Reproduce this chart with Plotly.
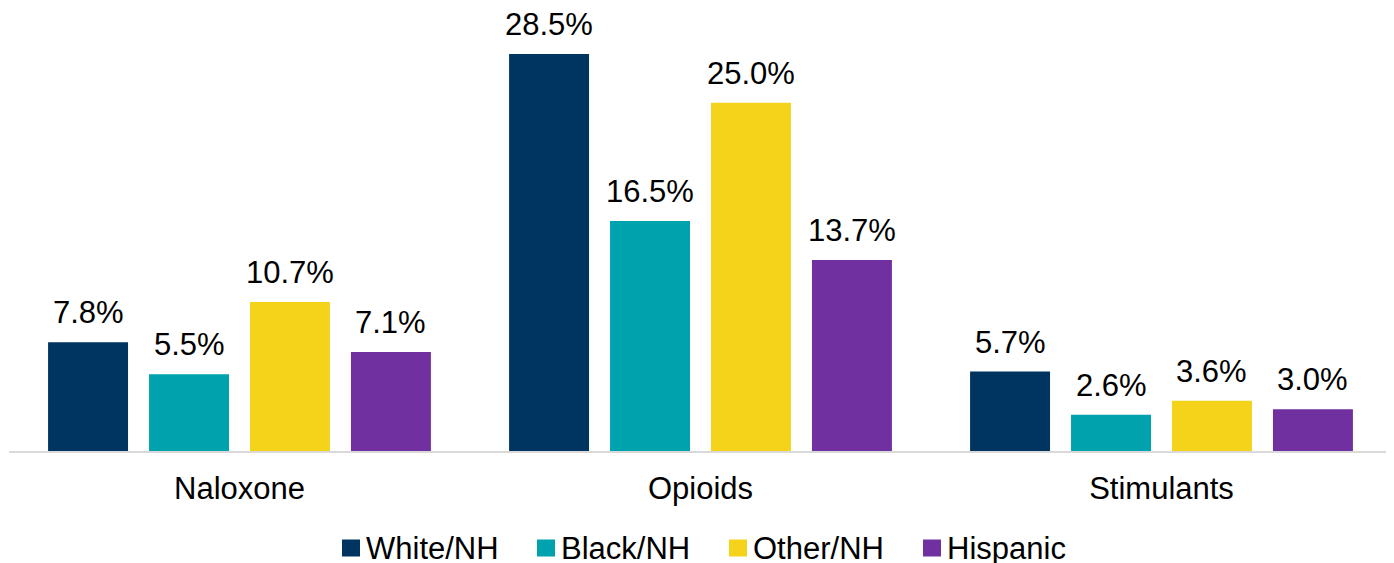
import plotly.graph_objects as go

categories = ["Naloxone", "Opioids", "Stimulants"]
series_names = ["White/NH", "Black/NH", "Other/NH", "Hispanic"]
white_nh = [7.8, 28.5, 5.7]
black_nh = [5.5, 16.5, 2.6]
other_nh = [10.7, 25.0, 3.6]
hispanic = [7.1, 13.7, 3.0]
series_values = [white_nh, black_nh, other_nh, hispanic]
colors = ["#003461", "#00A2AE", "#F6D31B", "#7030A0"]

FONT = "Liberation Sans, Arial, sans-serif"
FS = 31
BARGAP = 0.124
BARGROUPGAP = 0.208

# page body has an 8px default margin; the figure is sized to fit the window
PAGE_OFF = 8
W, H = 1394 - PAGE_OFF, 563 - PAGE_OFF
ML, MR, MT, MB = 1, 2, 25, 112
PW, PH = W - ML - MR, H - MT - MB

fig = go.Figure()
for name, vals, col in zip(series_names, series_values, colors):
    fig.add_trace(go.Bar(name=name, x=categories, y=vals, showlegend=False,
                         marker=dict(color=col, line=dict(width=0))))

n = len(series_names)
slot = (1 - BARGAP) / n
annotations = []
for j, vals in enumerate(series_values):
    for i, v in enumerate(vals):
        annotations.append(dict(
            x=i + (j - (n - 1) / 2) * slot, y=v, xref="x", yref="y",
            text=f"{v:.1f}%", showarrow=False, yanchor="bottom", yshift=10,
            font=dict(family=FONT, size=FS, color="#000000"),
        ))

# custom legend (layout positions in page pixels converted to paper coords)
legend_left_px = [342, 537, 729, 923]
legend_y_px = 548
sq_w, sq_h = 18, 17
shapes = []
for name, col, lx in zip(series_names, colors, legend_left_px):
    fx = lx - PAGE_OFF
    fy = legend_y_px - PAGE_OFF
    x0 = (fx - ML) / PW
    x1 = (fx + sq_w - ML) / PW
    y0 = (MT + PH - (fy + sq_h / 2)) / PH
    y1 = (MT + PH - (fy - sq_h / 2)) / PH
    shapes.append(dict(type="rect", xref="paper", yref="paper", x0=x0, x1=x1, y0=y0, y1=y1,
                       fillcolor=col, line=dict(width=0)))
    annotations.append(dict(
        x=(fx + sq_w + 4 - ML) / PW, y=(MT + PH - fy) / PH, xref="paper", yref="paper",
        text=name, showarrow=False, xanchor="left", yanchor="middle",
        font=dict(family=FONT, size=FS, color="#000000"),
    ))

fig.update_layout(
    width=W, height=H,
    margin=dict(l=ML, r=MR, t=MT, b=MB, autoexpand=False),
    paper_bgcolor="white", plot_bgcolor="white",
    barmode="group", bargap=BARGAP, bargroupgap=BARGROUPGAP,
    font=dict(family=FONT, size=FS, color="#000000"),
    showlegend=False,
    annotations=annotations,
    shapes=shapes,
    xaxis=dict(showline=True, linecolor="#d9d9d9", linewidth=2, showgrid=False,
               ticks="", tickfont=dict(family=FONT, size=FS, color="#000000"),
               ticklabelstandoff=9, fixedrange=True),
    yaxis=dict(range=[0, 30], visible=False, showgrid=False, zeroline=False),
)

fig.write_html("out.html")
